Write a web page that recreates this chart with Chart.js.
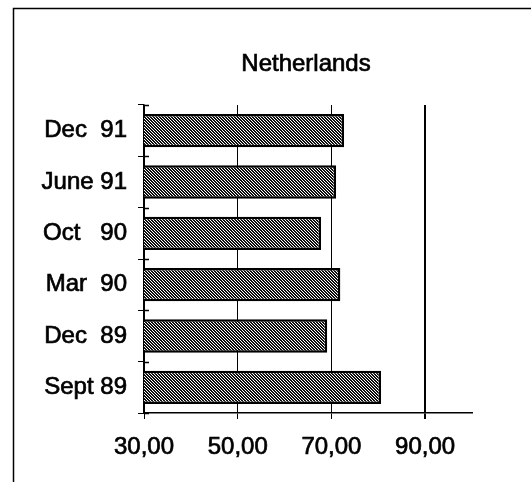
<!DOCTYPE html>
<html>
<head>
<meta charset="utf-8">
<script src="https://cdn.jsdelivr.net/npm/chart.js@4/dist/chart.umd.min.js"></script>
<style>
  html, body { margin: 0; padding: 0; background: #fff; }
  canvas { display: block; }
</style>
</head>
<body>
<canvas id="c" width="531" height="482"></canvas>
<script>
// Dados (ordem de cima para baixo)
const categories = ["Dec  91", "June 91", "Oct   90", "Mar  90", "Dec  89", "Sept 89"];
const values = [72.7, 71.0, 67.8, 71.9, 69.1, 80.6];
const xTicks = [30, 50, 70, 90];
const titleText = "Netherlands";

const FONT = "'Liberation Sans', Arial, Helvetica, sans-serif";
// Traço fino no texto para imitar o peso da impressão escaneada
const TEXT_STROKE = 0.7;

// Hachura diagonal (\\\) escura, como no original impresso
function hatch() {
    const size = 3;
    const c = document.createElement("canvas");
    c.width = size;
    c.height = size;
    const g = c.getContext("2d");
    const img = g.createImageData(size, size);
    for (let y = 0; y < size; y++) {
        for (let x = 0; x < size; x++) {
            const on = ((x - y + size) % size) < 2;
            const i = (y * size + x) * 4;
            const v = on ? 15 : 255;
            img.data[i] = v;
            img.data[i + 1] = v;
            img.data[i + 2] = v;
            img.data[i + 3] = 255;
        }
    }
    g.putImageData(img, 0, 0);
    return document.getElementById("c").getContext("2d").createPattern(c, "repeat");
}

// Moldura, título e marcas do eixo Y
const framePlugin = {
    id: "frame",
    beforeDraw(chart) {
        const ctx = chart.ctx;
        ctx.save();
        ctx.strokeStyle = "#000";
        ctx.lineWidth = 1.5;
        ctx.beginPath();
        ctx.moveTo(13.5, 482);
        ctx.lineTo(13.5, 8.5);
        ctx.lineTo(531, 8.5);
        ctx.stroke();
        ctx.restore();
    },
    afterDraw(chart) {
        const ctx = chart.ctx;
        ctx.save();
        ctx.fillStyle = "#000";
        ctx.strokeStyle = "#000";
        ctx.font = "24px " + FONT;
        ctx.textAlign = "center";
        ctx.textBaseline = "middle";
        ctx.lineWidth = TEXT_STROKE;
        ctx.fillText(titleText, 306, 64);
        ctx.strokeText(titleText, 306, 64);

        // marcas do eixo Y cruzando a linha (estilo "+")
        const y = chart.scales.y;
        ctx.lineWidth = 1.5;
        ctx.beginPath();
        for (let i = 0; i <= categories.length; i++) {
            const py = y.top + (i * (y.bottom - y.top)) / categories.length;
            ctx.moveTo(y.right, Math.round(py) + 0.5);
            ctx.lineTo(y.right + 5, Math.round(py) + 0.5);
        }
        ctx.stroke();
        ctx.restore();
    },
};

new Chart(document.getElementById("c"), {
    type: "bar",
    data: {
        labels: categories,
        datasets: [{
            data: values,
            backgroundColor: hatch(),
            borderColor: "#000",
            borderWidth: 2.5,
            borderSkipped: false,
            categoryPercentage: 1,
            barPercentage: 0.65,
        }],
    },
    options: {
        indexAxis: "y",
        responsive: false,
        animation: false,
        layout: { padding: { top: 105, right: 59, bottom: 0, left: 0 } },
        scales: {
            x: {
                min: 30,
                max: 100,
                afterBuildTicks: (scale) => {
                    scale.ticks = xTicks.map((v) => ({ value: v }));
                },
                afterFit: (scale) => { scale.height = 69; },
                border: { color: "#000", width: 1.5 },
                grid: {
                    color: "#000",
                    lineWidth: (ctx) => (ctx.tick && ctx.tick.value === 90 ? 2 : 1),
                    tickLength: 6,
                },
                ticks: {
                    color: "#000",
                    padding: 14,
                    textStrokeColor: "#000",
                    textStrokeWidth: TEXT_STROKE,
                    font: { family: FONT, size: 24 },
                    callback: (v) => Number(v).toFixed(2).replace(".", ","),
                },
            },
            y: {
                afterFit: (scale) => { scale.width = 144; },
                border: { color: "#000", width: 1.5 },
                grid: { color: "#000", drawOnChartArea: false, tickLength: 6 },
                ticks: {
                    color: "#000",
                    padding: 11,
                    textStrokeColor: "#000",
                    textStrokeWidth: TEXT_STROKE,
                    font: { family: FONT, size: 24 },
                },
            },
        },
        plugins: {
            legend: { display: false },
            title: { display: false },
            tooltip: { enabled: false },
        },
    },
    plugins: [framePlugin],
});
</script>
</body>
</html>
